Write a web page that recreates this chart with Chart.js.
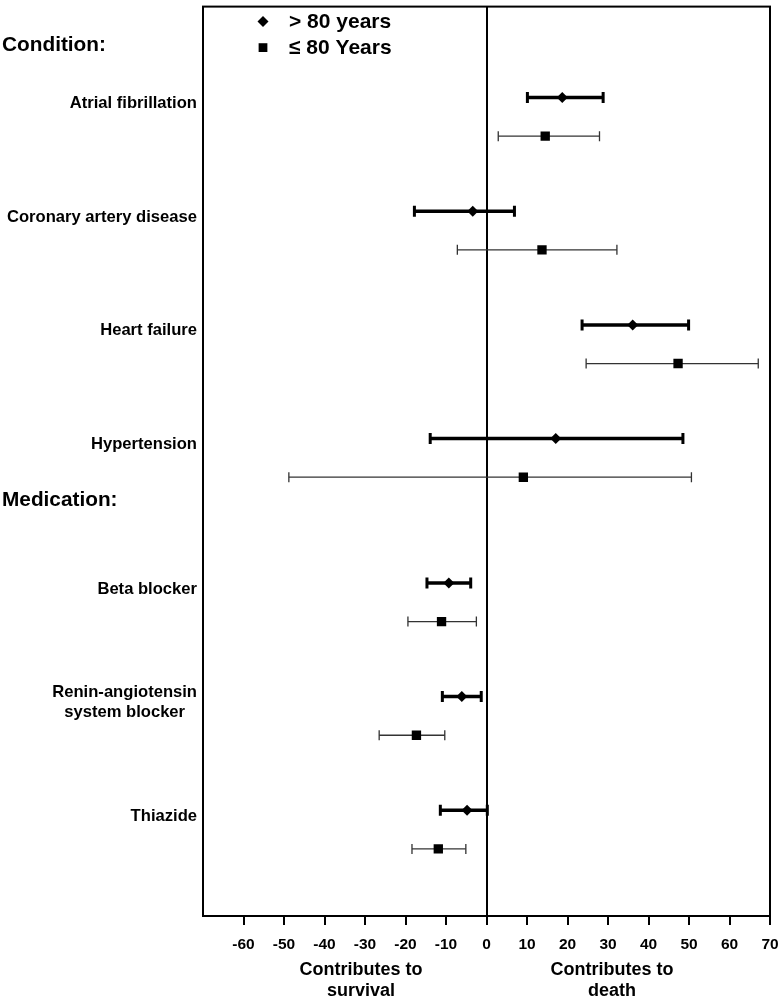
<!DOCTYPE html>
<html>
<head>
<meta charset="utf-8">
<script src="https://cdn.jsdelivr.net/npm/chart.js@4.4.1/dist/chart.umd.min.js"></script>
<style>
  body { margin: 0; background: #fff; }
  canvas { display: block; }
</style>
</head>
<body>
<canvas id="forest" width="780" height="999"></canvas>
<script>
// rows, top to bottom
var categories = ['Atrial fibrillation', 'Coronary artery disease', 'Heart failure', 'Hypertension',
                  'Beta blocker', ['Renin-angiotensin', 'system blocker'], 'Thiazide'];
var sections = ['Condition:', 'Condition:', 'Condition:', 'Condition:',
                'Medication:', 'Medication:', 'Medication:'];
var seriesNames = ['> 80 years', '\u2264 80 Years'];

// > 80 years
var olderEst = [18.7, -3.4, 36.1, 17.1, -9.3, -6.1, -4.8];
var olderLo  = [10.1, -17.8, 23.6, -13.9, -14.7, -10.9, -11.4];
var olderHi  = [28.8, 6.9, 49.9, 48.5, -3.9, -1.3, 0.2];

// <= 80 years
var youngerEst = [14.5, 13.7, 47.3, 9.1, -11.1, -17.3, -11.9];
var youngerLo  = [2.9, -7.2, 24.6, -48.8, -19.4, -26.5, -18.4];
var youngerHi  = [27.9, 32.2, 67.1, 50.6, -2.5, -10.3, -5.1];

var xTickValues = [-70, -60, -50, -40, -30, -20, -10, 0, 10, 20, 30, 40, 50, 60, 70];
var xTickLabels = ['', '-60', '-50', '-40', '-30', '-20', '-10', '0', '10', '20', '30', '40', '50', '60', '70'];
var axisTitles = [['Contributes to', 'survival'], ['Contributes to', 'death']];

var FONT = "'Liberation Sans', Arial, sans-serif";

function rowPos(i) {
  return i + 0.8 + (sections[i] === 'Medication:' ? 0.27 : 0);
}
var youngOffset = 0.34;

var errorBars = {
  id: 'errorBars',
  beforeDatasetsDraw: function(chart) {
    var ctx = chart.ctx, xs = chart.scales.x, ys = chart.scales.y;
    function bar(lo, hi, yv, lw, cap, color, capW) {
      var x1 = xs.getPixelForValue(lo), x2 = xs.getPixelForValue(hi), y = ys.getPixelForValue(yv);
      ctx.save();
      ctx.strokeStyle = color;
      ctx.lineWidth = lw;
      ctx.beginPath();
      ctx.moveTo(x1, y); ctx.lineTo(x2, y);
      ctx.stroke();
      ctx.lineWidth = capW;
      ctx.beginPath();
      ctx.moveTo(x1, y - cap); ctx.lineTo(x1, y + cap);
      ctx.moveTo(x2, y - cap); ctx.lineTo(x2, y + cap);
      ctx.stroke();
      ctx.restore();
    }
    categories.forEach(function(c, i) {
      bar(olderLo[i], olderHi[i], rowPos(i), 3.5, 5.5, '#000', 3);
      bar(youngerLo[i], youngerHi[i], rowPos(i) + youngOffset, 1.3, 5, '#333', 1.3);
    });
  }
};

var annotations = {
  id: 'annotations',
  afterDraw: function(chart) {
    var ctx = chart.ctx, xs = chart.scales.x, ys = chart.scales.y, a = chart.chartArea;
    ctx.save();
    // frame
    ctx.strokeStyle = '#000';
    ctx.lineWidth = 2;
    ctx.strokeRect(a.left, a.top, a.right - a.left, a.bottom - a.top);

    ctx.fillStyle = '#000';
    ctx.textBaseline = 'middle';

    // section headers
    ctx.font = 'bold 20.8px ' + FONT;
    ctx.textAlign = 'left';
    sections.forEach(function(s, i) {
      if (i === 0 || sections[i - 1] !== s) {
        ctx.fillText(s, 2, ys.getPixelForValue(i + 0.34));
      }
    });

    // row labels
    ctx.font = 'bold 16.6px ' + FONT;
    categories.forEach(function(c, i) {
      var y = ys.getPixelForValue(rowPos(i)) + 6;
      var lines = Array.isArray(c) ? c : [c];
      var w = Math.max.apply(null, lines.map(function(l) { return ctx.measureText(l).width; }));
      var cx = a.left - 6 - w / 2;
      ctx.textAlign = 'center';
      lines.forEach(function(l, k) {
        ctx.fillText(l, cx, y + (k - (lines.length - 1) / 2) * 20);
      });
    });

    // legend
    var styles = [['rectRot', 5.5], ['rect', 6.2]];
    ctx.font = 'bold 21px ' + FONT;
    ctx.textAlign = 'left';
    seriesNames.forEach(function(n, k) {
      var y = a.top + 15 + k * 26;
      Chart.helpers.drawPoint(ctx, {pointStyle: styles[k][0], radius: styles[k][1], rotation: 0, borderWidth: 0}, a.left + 60, y);
      ctx.fillText(n, a.left + 86, y + 1);
    });

    // axis titles
    ctx.font = 'bold 18px ' + FONT;
    ctx.textAlign = 'center';
    [-31, 31].forEach(function(v, k) {
      var x = xs.getPixelForValue(v);
      axisTitles[k].forEach(function(l, j) {
        ctx.fillText(l, x, a.bottom + 54 + j * 21);
      });
    });
    ctx.restore();
  }
};

new Chart(document.getElementById('forest'), {
  type: 'scatter',
  data: {
    datasets: [{
      label: seriesNames[0],
      data: categories.map(function(c, i) { return {x: olderEst[i], y: rowPos(i)}; }),
      pointStyle: 'rectRot',
      pointRadius: 5.5,
      backgroundColor: '#000',
      borderColor: '#000',
      borderWidth: 0
    }, {
      label: seriesNames[1],
      data: categories.map(function(c, i) { return {x: youngerEst[i], y: rowPos(i) + youngOffset}; }),
      pointStyle: 'rect',
      pointRadius: 6.6,
      backgroundColor: '#000',
      borderColor: '#000',
      borderWidth: 0
    }]
  },
  options: {
    responsive: false,
    animation: false,
    devicePixelRatio: 1,
    layout: { padding: { left: 203, right: 10, top: 2, bottom: 0 } },
    plugins: { legend: { display: false }, tooltip: { enabled: false } },
    scales: {
      x: {
        type: 'linear',
        min: -70,
        max: 70,
        afterBuildTicks: function(s) { s.ticks = xTickValues.map(function(v) { return {value: v}; }); },
        afterFit: function(s) { s.height = 83; s.paddingLeft = 0; s.paddingRight = 0; },
        ticks: {
          callback: function(v, i) { return xTickLabels[i]; },
          font: { family: FONT, size: 15.5, weight: 'bold' },
          color: '#000',
          padding: 10,
          maxRotation: 0,
          autoSkip: false
        },
        grid: {
          color: function(c) { return c.tick && c.tick.value === 0 ? '#000' : 'rgba(0,0,0,0)'; },
          lineWidth: 2,
          tickLength: 9,
          tickWidth: 2,
          tickColor: function(c) { return c.tick && c.tick.value === -70 ? 'rgba(0,0,0,0)' : '#000'; }
        },
        border: { color: '#000', width: 2 }
      },
      y: {
        type: 'linear',
        display: false,
        min: 0,
        max: 8,
        reverse: true
      }
    }
  },
  plugins: [errorBars, annotations]
});
</script>
</body>
</html>
